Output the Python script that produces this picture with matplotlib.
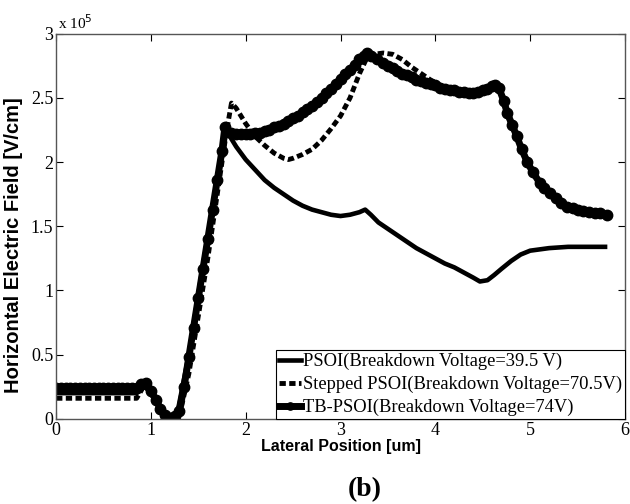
import matplotlib
matplotlib.use("Agg")
import matplotlib.pyplot as plt

# PSOI (solid line)
psoi_x = [0, 0.85, 0.93, 1.0, 1.1, 1.2, 1.28, 1.4, 1.55, 1.7, 1.8, 1.85, 1.9, 1.95,
          2.0, 2.1, 2.2, 2.3, 2.4, 2.5, 2.6, 2.7, 2.8, 2.9, 3.0, 3.1, 3.2, 3.26,
          3.32, 3.4, 3.5, 3.6, 3.7, 3.8, 3.9, 4.0, 4.1, 4.2, 4.3, 4.4, 4.47, 4.55,
          4.62, 4.7, 4.8, 4.9, 5.0, 5.1, 5.2, 5.4, 5.79]
psoi_y = [0.20, 0.20, 0.26, 0.20, 0.08, 0.02, 0.05, 0.50, 1.20, 1.85, 2.25, 2.18,
          2.12, 2.07, 2.02, 1.94, 1.86, 1.80, 1.75, 1.70, 1.66, 1.63, 1.61, 1.59,
          1.58, 1.59, 1.61, 1.63, 1.59, 1.53, 1.48, 1.43, 1.38, 1.33, 1.29, 1.25,
          1.21, 1.18, 1.14, 1.10, 1.07, 1.08, 1.12, 1.17, 1.23, 1.28, 1.31, 1.32,
          1.33, 1.34, 1.34]

# Stepped PSOI (dashed)
step_x = [0, 0.85, 0.93, 1.0, 1.1, 1.2, 1.3, 1.4, 1.5, 1.6, 1.7, 1.8, 1.85, 1.9,
          1.95, 2.0, 2.05, 2.1, 2.2, 2.3, 2.4, 2.45, 2.5, 2.6, 2.7, 2.8, 2.9, 3.0,
          3.1, 3.2, 3.27, 3.35, 3.45, 3.55, 3.65, 3.75, 3.85, 3.95, 4.05, 4.1, 4.2,
          4.3, 4.4, 4.5, 4.6, 4.63, 4.7, 4.8, 4.9, 5.0, 5.1, 5.2, 5.3, 5.4, 5.5,
          5.65, 5.81]
step_y = [0.16, 0.16, 0.26, 0.20, 0.08, 0.02, 0.02, 0.35, 0.80, 1.25, 1.75, 2.25,
          2.46, 2.42, 2.36, 2.30, 2.25, 2.20, 2.13, 2.07, 2.03, 2.02, 2.03, 2.06,
          2.10, 2.17, 2.26, 2.36, 2.50, 2.69, 2.80, 2.84, 2.85, 2.84, 2.80, 2.74,
          2.69, 2.64, 2.60, 2.58, 2.56, 2.55, 2.54, 2.56, 2.59, 2.60, 2.52, 2.31,
          2.12, 1.97, 1.84, 1.76, 1.69, 1.65, 1.63, 1.61, 1.59]

# TB-PSOI (line with dots)
tb_x = [0, 0.05, 0.1, 0.15, 0.2, 0.25, 0.3, 0.35, 0.4, 0.45, 0.5, 0.55, 0.6, 0.65,
        0.7, 0.75, 0.8, 0.85, 0.9, 0.95, 1.0, 1.05, 1.1, 1.15, 1.2, 1.25, 1.3,
        1.35, 1.4, 1.45, 1.5, 1.55, 1.6, 1.65, 1.7, 1.75, 1.78, 1.85, 1.9, 1.95,
        2.0, 2.05, 2.1, 2.15, 2.2, 2.25, 2.3, 2.35, 2.4, 2.45, 2.5, 2.55, 2.6,
        2.65, 2.7, 2.75, 2.8, 2.85, 2.9, 2.95, 3.0, 3.05, 3.1, 3.15, 3.2, 3.25,
        3.28, 3.32, 3.38, 3.45, 3.5, 3.55, 3.6, 3.65, 3.7, 3.75, 3.8, 3.85, 3.9,
        3.95, 4.0, 4.05, 4.1, 4.15, 4.2, 4.25, 4.3, 4.35, 4.4, 4.45, 4.5, 4.55,
        4.6, 4.63, 4.67, 4.72, 4.76, 4.81, 4.86, 4.91, 4.97, 5.03, 5.1, 5.15,
        5.21, 5.27, 5.33, 5.39, 5.45, 5.5, 5.56, 5.62, 5.68, 5.74, 5.81]
tb_y = [0.24, 0.24, 0.24, 0.24, 0.24, 0.24, 0.24, 0.24, 0.24, 0.24, 0.24, 0.24,
        0.24, 0.24, 0.24, 0.24, 0.24, 0.24, 0.27, 0.28, 0.22, 0.15, 0.08, 0.03,
        0.01, 0.02, 0.06, 0.25, 0.48, 0.71, 0.94, 1.17, 1.40, 1.63, 1.86, 2.09,
        2.27, 2.23, 2.22, 2.22, 2.22, 2.22, 2.23, 2.23, 2.24, 2.25, 2.27, 2.28,
        2.30, 2.32, 2.34, 2.36, 2.39, 2.41, 2.44, 2.47, 2.50, 2.54, 2.57, 2.61,
        2.65, 2.69, 2.72, 2.76, 2.80, 2.83, 2.85, 2.83, 2.80, 2.77, 2.75, 2.73,
        2.71, 2.69, 2.68, 2.66, 2.64, 2.63, 2.62, 2.61, 2.60, 2.58, 2.57, 2.56,
        2.56, 2.55, 2.55, 2.54, 2.54, 2.55, 2.56, 2.57, 2.59, 2.60, 2.58, 2.48,
        2.38, 2.29, 2.20, 2.10, 2.00, 1.92, 1.84, 1.80, 1.76, 1.72, 1.68, 1.65,
        1.64, 1.63, 1.62, 1.61, 1.60, 1.60, 1.59]

labels = ["PSOI(Breakdown Voltage=39.5 V)",
          "Stepped PSOI(Breakdown Voltage=70.5V)",
          "TB-PSOI(Breakdown Voltage=74V)"]

serif = ["Liberation Serif", "DejaVu Serif"]
sans = ["Liberation Sans", "DejaVu Sans"]

fig = plt.figure(figsize=(6.3, 5.04), dpi=100)
ax = fig.add_axes([0.089, 0.169, 0.903, 0.764])

ax.plot(psoi_x, psoi_y, color="black", lw=3.3, label=labels[0])
ax.plot(step_x, step_y, color="black", lw=3.5, ls=(0, (1.3, 0.7)), label=labels[1])
ax.plot(tb_x, tb_y, color="black", lw=5, marker="o", ms=7.5, label=labels[2])

ax.set_xlim(0, 6)
ax.set_ylim(0, 3)
ax.set_xticks(range(0, 7))
ax.set_yticks([0, 0.5, 1, 1.5, 2, 2.5, 3])
ax.set_yticklabels(["0", "0.5", "1", "1.5", "2", "2.5", "3"])
ax.tick_params(direction="in", top=True, right=True, length=5, width=0.8,
               labelsize=13, pad=2)
for lab in ax.get_xticklabels() + ax.get_yticklabels():
    lab.set_family(serif)
for sp in ax.spines.values():
    sp.set_color("#555555")
    sp.set_linewidth(1)

ax.text(0.003, 1.005, r"x 10$^5$", transform=ax.transAxes, fontsize=11,
        family=serif, va="bottom", ha="left")

ax.set_xlabel("Lateral Position [um]", fontsize=11.5, fontweight="bold",
              family=sans, labelpad=0)
ax.set_ylabel("Horizontal Electric Field [V/cm]", fontsize=14.5,
              fontweight="bold", family=sans)
ax.yaxis.set_label_coords(-0.058, 0.45)

leg = ax.legend(loc="lower right", borderaxespad=0, fancybox=False,
                edgecolor="black", framealpha=1, prop={"family": serif, "size": 13.3},
                handlelength=1.2, handletextpad=0.1, labelspacing=0.3,
                borderpad=0.15, markerscale=0.7)
leg.get_frame().set_linewidth(0.8)

fig.text(0.579, 0.028, "(b)", fontsize=20, fontweight="bold", family=serif,
         ha="center", va="center")

fig.savefig("out.png", dpi=100)
